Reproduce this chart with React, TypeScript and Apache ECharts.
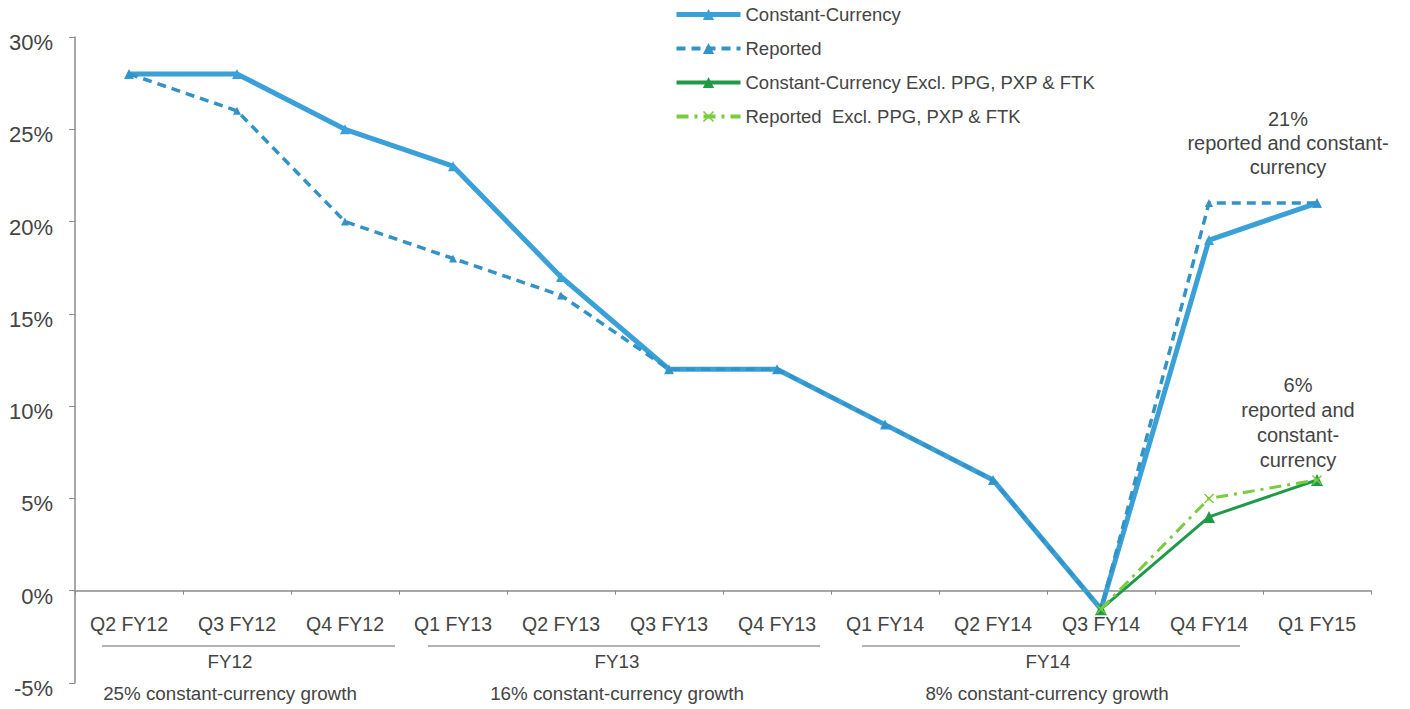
import React, { useEffect, useRef } from "react";
import * as echarts from "echarts";

const categories = [
  "Q2 FY12", "Q3 FY12", "Q4 FY12", "Q1 FY13", "Q2 FY13", "Q3 FY13",
  "Q4 FY13", "Q1 FY14", "Q2 FY14", "Q3 FY14", "Q4 FY14", "Q1 FY15",
];
const constantCurrency = [28, 28, 25, 23, 17, 12, 12, 9, 6, -1, 19, 21];
const reported = [28, 26, 20, 18, 16, 12, 12, 9, 6, -1, 21, 21];
const ccExcl = [null, null, null, null, null, null, null, null, null, -1, 4, 6];
const reportedExcl = [null, null, null, null, null, null, null, null, null, -1, 5, 6];
const yTicks = [-5, 0, 5, 10, 15, 20, 25, 30];

const groups = [
  { label: "FY12", note: "25% constant-currency growth", x1: 102, x2: 395, cx: 230, ncx: 230 },
  { label: "FY13", note: "16% constant-currency growth", x1: 428, x2: 820, cx: 617, ncx: 617 },
  { label: "FY14", note: "8% constant-currency growth", x1: 862, x2: 1240, cx: 1048, ncx: 1047 },
];

const TEXT = "#444444";
const FONT = "Liberation Sans, Arial, sans-serif";
const XMARK = "path://M0,1 L1,0 L5,4 L9,0 L10,1 L6,5 L10,9 L9,10 L5,6 L1,10 L0,9 L4,5 Z";
const BLUE = "#3aa0d8";
const BLUE2 = "#3392c6";
const GREEN = "#1f9a47";
const LGREEN = "#7acb3e";

export default function App() {
  const ref = useRef<HTMLDivElement>(null);
  useEffect(() => {
    document.body.style.margin = "0";
    const chart = echarts.init(ref.current!, null, { renderer: "svg" });
    const graphics: any[] = [];
    groups.forEach((g) => {
      graphics.push({
        type: "line",
        shape: { x1: g.x1, y1: 646, x2: g.x2, y2: 646 },
        style: { stroke: "#9a9a9a", lineWidth: 1.5 },
      });
      graphics.push({
        type: "text",
        x: g.cx, y: 661,
        style: { text: g.label, fill: TEXT, font: `18.8px ${FONT}`, align: "center", verticalAlign: "middle" },
      });
      graphics.push({
        type: "text",
        x: g.ncx, y: 693,
        style: { text: g.note, fill: TEXT, font: `18.8px ${FONT}`, align: "center", verticalAlign: "middle" },
      });
    });
    graphics.push({
      type: "text",
      x: 1288, y: 143,
      style: {
        text: "21%\nreported and constant-\ncurrency",
        fill: TEXT, font: `20px ${FONT}`, lineHeight: 24, align: "center", verticalAlign: "middle",
      },
    });
    graphics.push({
      type: "text",
      x: 1298, y: 422,
      style: {
        text: "6%\nreported and\nconstant-\ncurrency",
        fill: TEXT, font: `20px ${FONT}`, lineHeight: 25, align: "center", verticalAlign: "middle",
      },
    });

    chart.setOption({
      animation: false,
      textStyle: { fontFamily: FONT },
      grid: { left: 75, right: 39, top: 37, bottom: 26, outerBoundsMode: "none" },
      legend: {
        orient: "vertical",
        left: 669,
        top: 0,
        itemWidth: 64,
        itemHeight: 14,
        itemGap: 15,
        textStyle: { fontSize: 18.5, color: TEXT, fontFamily: FONT },
        data: [
          { name: "Constant-Currency", lineStyle: { width: 5 } },
          { name: "Reported", lineStyle: { width: 4 } },
          { name: "Constant-Currency Excl. PPG, PXP & FTK", lineStyle: { width: 4 } },
          { name: "Reported  Excl. PPG, PXP & FTK", lineStyle: { width: 4 } },
        ],
      },
      xAxis: {
        type: "category",
        data: categories,
        boundaryGap: true,
        axisLine: { onZero: true, lineStyle: { color: "#8a8a8a", width: 1.5 } },
        axisTick: { show: true, length: 4, inside: false, lineStyle: { color: "#8a8a8a" } },
        axisLabel: { margin: -69, fontSize: 19.5, color: TEXT, fontFamily: FONT, interval: 0 },
        splitLine: { show: false },
      },
      yAxis: {
        type: "value",
        min: -5,
        max: 30,
        interval: 5,
        axisLine: { show: true, onZero: false, lineStyle: { color: "#8a8a8a", width: 1.5 } },
        axisTick: { show: true, length: 6, lineStyle: { color: "#8a8a8a" } },
        axisLabel: {
          margin: 22,
          fontSize: 22,
          color: TEXT,
          fontFamily: FONT,
          verticalAlign: "top",
          lineHeight: 11,
          formatter: (v: number) => (yTicks.includes(v) ? `${v}%` : ""),
        },
        splitLine: { show: false },
      },
      series: [
        {
          name: "Constant-Currency",
          type: "line",
          data: constantCurrency,
          z: 2,
          symbol: "triangle",
          symbolSize: 10,
          itemStyle: { color: BLUE },
          lineStyle: { color: BLUE, width: 5 },
        },
        {
          name: "Reported",
          type: "line",
          data: reported,
          z: 3,
          symbol: "triangle",
          symbolSize: 8,
          itemStyle: { color: BLUE2 },
          lineStyle: { color: BLUE2, width: 3.5, type: [9, 6] },
        },
        {
          name: "Constant-Currency Excl. PPG, PXP & FTK",
          type: "line",
          data: ccExcl,
          z: 4,
          symbol: "triangle",
          symbolSize: 12,
          itemStyle: { color: GREEN },
          lineStyle: { color: GREEN, width: 3 },
        },
        {
          name: "Reported  Excl. PPG, PXP & FTK",
          type: "line",
          data: reportedExcl,
          z: 5,
          symbol: XMARK,
          symbolSize: 10,
          itemStyle: { color: LGREEN },
          lineStyle: { color: LGREEN, width: 3, type: [12, 6, 3, 6] },
        },
      ],
      graphic: graphics,
    });
    return () => chart.dispose();
  }, []);
  return <div ref={ref} style={{ width: 1410, height: 709 }} />;
}
